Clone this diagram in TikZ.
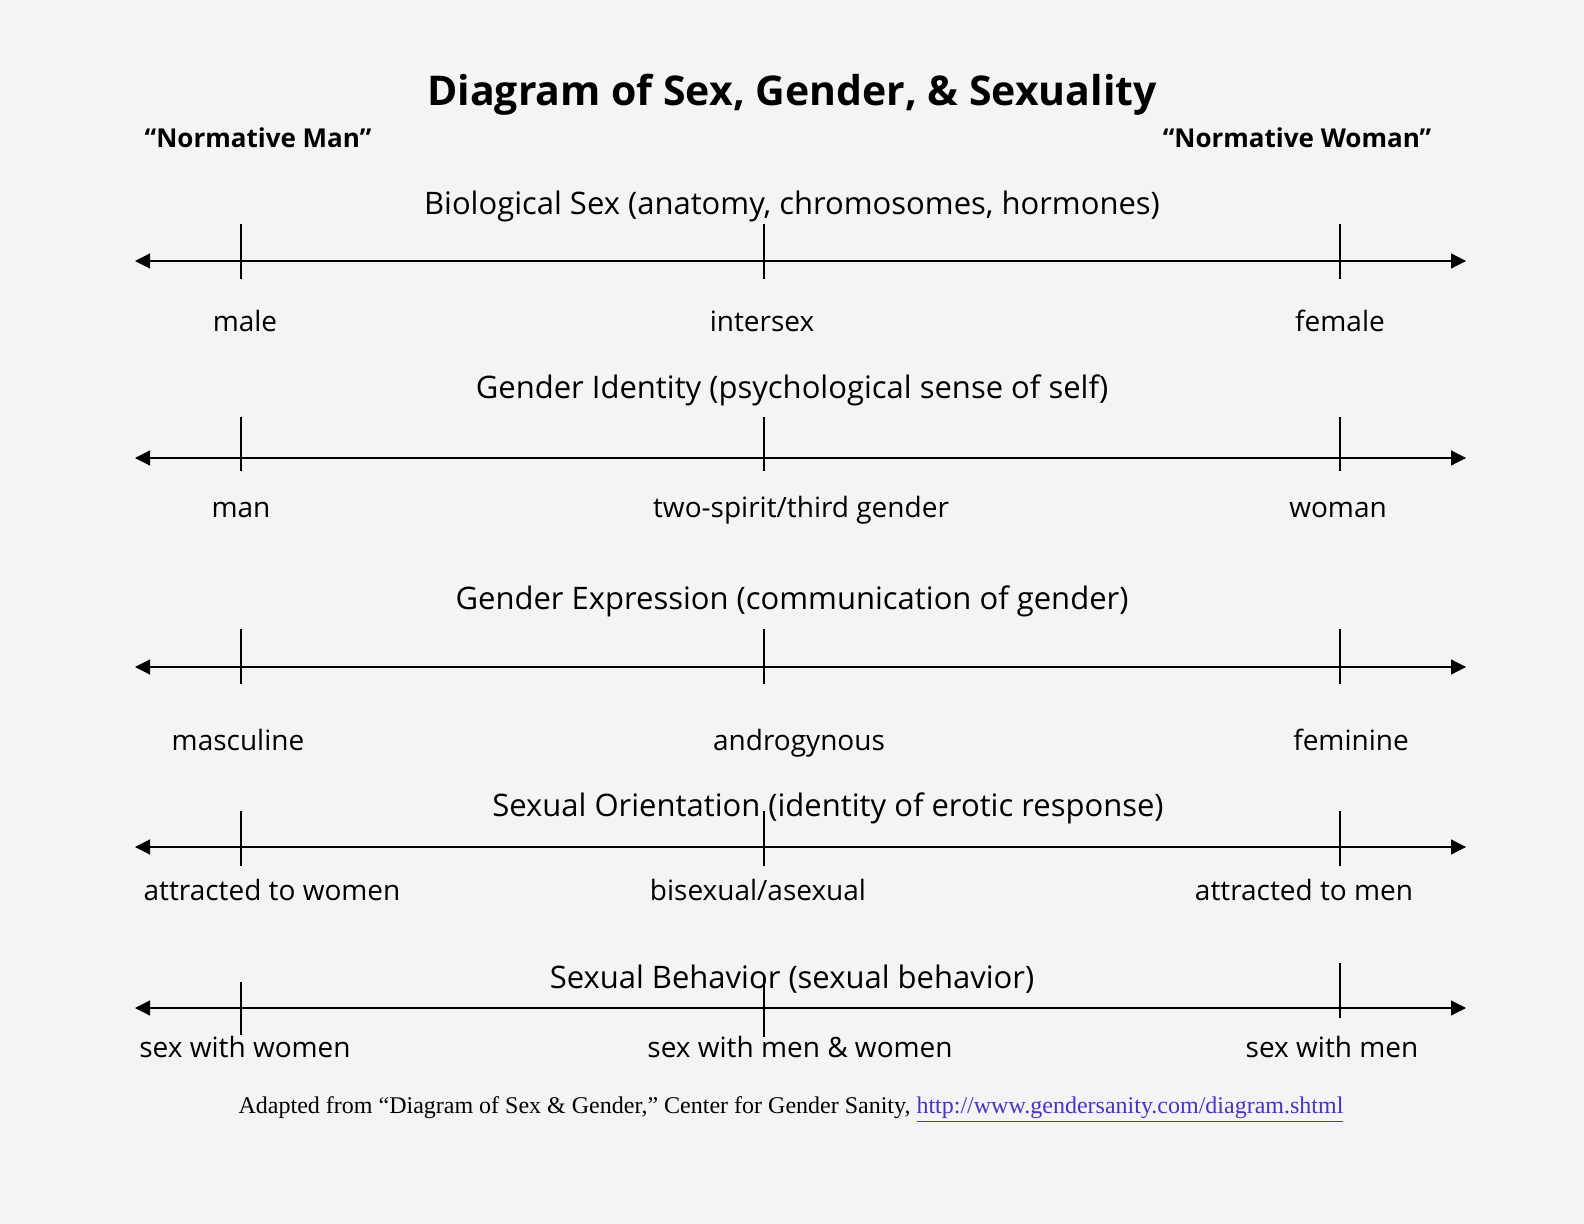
\documentclass[tikz,border=0pt]{standalone}
\usepackage{fontspec}
\setmainfont{Open Sans}
\newfontfamily\footfont[Ligatures=TeX]{Liberation Serif}
\usetikzlibrary{arrows.meta, positioning}
\definecolor{paper}{RGB}{245,244,244}
\definecolor{linkblue}{RGB}{72,50,200}

\begin{document}
\begin{tikzpicture}[x=0.5pt, y=-0.5pt,
  axis/.style={{Triangle[length=7.5pt,width=7.5pt]}-{Triangle[length=7.5pt,width=7.5pt]}, line width=0.6pt},
  tickmark/.style={line width=0.6pt},
  heading/.style={font=\fontsize{15.5}{18}\selectfont, text height=0.75em, text depth=0.25em},
  pole/.style={font=\fontsize{14}{17}\selectfont, text height=0.75em, text depth=0.25em}]
  \fill[paper] (0,0) rectangle (1584,1224);

  \node[font=\fontsize{20.5}{24}\bfseries] (title) at (792,95) {Diagram of Sex, Gender, \& Sexuality};
  \node[font=\fontsize{13}{16}\bfseries] (nman) at (258,138) {``Normative Man''};
  \node[font=\fontsize{13}{16}\bfseries] (nwoman) at (1297,138) {``Normative Woman''};

  % the five scales
  \foreach \n/\y/\up/\dn in {bio/261/37/18, ident/458/41/13, expr/667/38/17, orient/847/36/19} {
    \coordinate (\n-l) at (135,\y);
    \coordinate (\n-r) at (1466,\y);
    \draw[axis] (\n-l) -- (\n-r);
    \foreach \x in {241,764,1340}
      \draw[tickmark] (\x,\y-\up) -- (\x,\y+\dn);
  }
  \coordinate (behav-l) at (135,1008);
  \coordinate (behav-r) at (1466,1008);
  \draw[axis] (behav-l) -- (behav-r);
  \draw[tickmark] (241,982) -- (241,1035);
  \draw[tickmark] (764,977) -- (764,1037);
  \draw[tickmark] (1340,963) -- (1340,1018);

  \node[heading] (bio) at (792,210) {Biological Sex (anatomy, chromosomes, hormones)};
  \node[pole] (male) at (245,327) {male};
  \node[pole] (intersex) at (762,327) {intersex};
  \node[pole] (female) at (1340,327) {female};

  \node[heading] (ident) at (792,394) {Gender Identity (psychological sense of self)};
  \node[pole] (man) at (241,512) {man};
  \node[pole] (twospirit) at (801,512) {two-spirit/third gender};
  \node[pole] (woman) at (1338,512) {woman};

  \node[heading] (expr) at (792,605) {Gender Expression (communication of gender)};
  \node[pole] (masc) at (238,745) {masculine};
  \node[pole] (andro) at (799,745) {androgynous};
  \node[pole] (fem) at (1351,745) {feminine};

  \node[heading] (orient) at (828,811) {Sexual Orientation (identity of erotic response)};
  \node[pole] (attrw) at (272,895) {attracted to women};
  \node[pole] (bisex) at (758,895) {bisexual/asexual};
  \node[pole] (attrm) at (1304,895) {attracted to men};

  \node[heading] (behav) at (792,983) {Sexual Behavior (sexual behavior)};
  \node[pole] (sexw) at (245,1052) {sex with women};
  \node[pole] (sexmw) at (800,1052) {sex with men \& women};
  \node[pole] (sexm) at (1332,1052) {sex with men};

  \node[font=\footfont\fontsize{12}{14}\selectfont] (source) at (791,1110)
    {Adapted from “Diagram of Sex \& Gender,” Center for Gender Sanity, \textcolor{linkblue}{\underline{http://www.gendersanity.com/diagram.shtml}}};
\end{tikzpicture}
\end{document}
